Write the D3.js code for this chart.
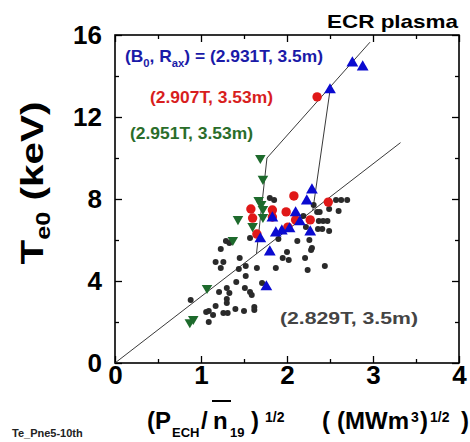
<!DOCTYPE html>
<html>
<head>
<meta charset="utf-8">
<script src="https://cdnjs.cloudflare.com/ajax/libs/d3/7.8.5/d3.min.js"></script>
<style>
  body { margin: 0; background: #fff; }
  svg { display: block; }
  text { font-family: "Liberation Sans", Arial, sans-serif; font-weight: bold; }
</style>
</head>
<body>
<div class="chart"></div>
<script>
// tick values
const xMajor = [0, 1, 2, 3, 4];
const xMinor = [0.5, 1.5, 2.5, 3.5];
const yMajor = [0, 4, 8, 12, 16];
const yMinor = [2, 6, 10, 14];

// (2.829T, 3.5m) - black dots
const blackDots = [[1.80,8.05],[1.85,7.95],[2.57,7.95],[2.63,7.95],[2.70,7.95],[2.31,7.71],[2.49,7.51],[2.60,7.41],
  [2.35,7.37],[2.38,7.37],[2.19,7.17],[2.37,6.93],[2.42,6.93],[2.47,6.93],[2.36,6.54],[2.41,6.54],[2.49,6.44],
  [2.22,6.63],[1.57,6.10],[1.90,6.05],[2.12,5.95],[2.26,6.00],[1.29,5.95],[1.33,5.85],[1.23,5.56],[2.29,5.61],
  [2.28,5.51],[2.00,5.41],[1.45,5.12],[1.17,4.93],[1.26,4.93],[1.95,5.12],[2.02,5.02],[2.21,5.12],[2.44,4.73],
  [1.23,4.63],[1.44,4.59],[1.52,4.73],[1.65,4.63],[1.87,4.63],[2.24,4.54],[1.52,4.24],[1.41,3.95],[1.71,3.90],
  [1.30,3.66],[1.51,3.66],[1.57,3.46],[1.59,3.32],[1.21,3.46],[1.33,3.41],[1.30,3.12],[1.30,2.93],[0.88,3.07],
  [1.17,2.78],[1.62,2.73],[1.62,2.59],[1.40,2.63],[1.50,2.54],[1.06,2.49],[1.09,2.54],[1.14,2.34],[1.09,2.00],
  [1.26,2.44],[1.31,2.44]];

// (2.907T, 3.53m) - red circles
const redDots = [[2.08,8.15],[2.48,7.85],[1.58,7.51],[1.83,7.46],[1.99,7.37],[1.60,7.07],[1.83,7.12],[2.27,6.98],
  [2.10,6.98],[2.01,6.63],[1.65,6.29],[2.35,12.98]];

// (2.931T, 3.5m) - blue triangles
const blueTri = [[2.29,8.44],[2.23,7.90],[2.10,7.32],[1.83,7.07],[2.27,6.39],[2.03,6.54],[1.94,6.44],[1.87,6.34],
  [1.69,6.05],[1.80,5.41],[1.76,3.71],[2.76,14.63],[2.88,14.44],[2.50,13.32],[2.15,6.88]];

// (2.951T, 3.53m) - green down triangles
const greenTri = [[1.69,10.0],[1.72,8.98],[1.67,7.95],[1.70,7.76],[1.72,7.51],[1.43,7.02],[1.72,7.12],[1.60,6.68],
  [1.37,6.0],[1.07,3.66],[0.87,1.99],[0.91,2.15]];

// guide lines
const lowerLine = [[0,0],[3.32,10.75]];
const upperLine = [[1.645,5.33],[1.767,10.0],[2.965,15.65]];
const jumpLine = [[2.30,7.45],[2.50,13.3]];

const W = 470, H = 442;
const margin = {top: 35, right: 11, bottom: 79, left: 115};
const w = W - margin.left - margin.right;
const h = H - margin.top - margin.bottom;

const svgRoot = d3.select(".chart").append("svg")
    .attr("width", W)
    .attr("height", H);
const svg = svgRoot.append("g")
    .attr("transform", "translate(" + margin.left + "," + margin.top + ")");

const x = d3.scaleLinear().domain([0, 4]).range([0, w]);
const y = d3.scaleLinear().domain([0, 16]).range([h, 0]);

// axes: ticks pointing inward on all four sides
const styleAxis = g => {
    g.select(".domain").remove();
    g.selectAll("line").attr("stroke", "#000").attr("stroke-width", 1.3);
};

svg.append("g").attr("transform", "translate(0," + h + ")")
    .call(d3.axisBottom(x).tickValues(xMajor).tickSize(-7).tickPadding(3).tickFormat(d3.format("d")))
    .call(styleAxis)
    .selectAll("text").style("font-size", "26px").attr("fill", "#000");
svg.append("g").attr("transform", "translate(0," + h + ")")
    .call(d3.axisBottom(x).tickValues(xMinor).tickSize(-4).tickFormat(""))
    .call(styleAxis);
svg.append("g")
    .call(d3.axisTop(x).tickValues(xMajor).tickSize(-7).tickFormat(""))
    .call(styleAxis);
svg.append("g")
    .call(d3.axisTop(x).tickValues(xMinor).tickSize(-4).tickFormat(""))
    .call(styleAxis);

svg.append("g")
    .call(d3.axisLeft(y).tickValues(yMajor).tickSize(-7).tickPadding(13).tickFormat(d3.format("d")))
    .call(styleAxis)
    .selectAll("text").style("font-size", "26px").attr("fill", "#000");
svg.append("g")
    .call(d3.axisLeft(y).tickValues(yMinor).tickSize(-4).tickFormat(""))
    .call(styleAxis);
svg.append("g").attr("transform", "translate(" + w + ",0)")
    .call(d3.axisRight(y).tickValues(yMajor).tickSize(-7).tickFormat(""))
    .call(styleAxis);
svg.append("g").attr("transform", "translate(" + w + ",0)")
    .call(d3.axisRight(y).tickValues(yMinor).tickSize(-4).tickFormat(""))
    .call(styleAxis);

// frame
svg.append("rect")
    .attr("width", w).attr("height", h)
    .attr("fill", "none").attr("stroke", "#000").attr("stroke-width", 1.6);

const line = d3.line().x(d => x(d[0])).y(d => y(d[1]));

// black dots
svg.selectAll(".blk").data(blackDots).enter().append("circle")
    .attr("class", "blk")
    .attr("cx", d => x(d[0])).attr("cy", d => y(d[1]))
    .attr("r", 3).attr("fill", "#2a2a2a");

// lines
[lowerLine, upperLine, jumpLine].forEach(pts => {
    svg.append("path").datum(pts)
        .attr("d", line)
        .attr("fill", "none").attr("stroke", "#222").attr("stroke-width", 0.9);
});

// red circles
svg.selectAll(".red").data(redDots).enter().append("circle")
    .attr("class", "red")
    .attr("cx", d => x(d[0])).attr("cy", d => y(d[1]))
    .attr("r", 4.7).attr("fill", "#e01818");

// blue triangles
const triUp = d3.symbol().type(d3.symbolTriangle).size(60);
svg.selectAll(".blue").data(blueTri).enter().append("path")
    .attr("class", "blue")
    .attr("d", triUp)
    .attr("transform", d => "translate(" + x(d[0]) + "," + y(d[1]) + ")")
    .attr("fill", "#0a0ad0");

// green down triangles
const triDown = d3.symbol().type(d3.symbolTriangle).size(48);
svg.selectAll(".green").data(greenTri).enter().append("path")
    .attr("class", "green")
    .attr("d", triDown)
    .attr("transform", d => "translate(" + x(d[0]) + "," + y(d[1]) + ") rotate(180)")
    .attr("fill", "#1d6a2c");

// annotations
svgRoot.append("text")
    .attr("x", 458).attr("y", 28)
    .attr("text-anchor", "end")
    .style("font-size", "19px")
    .attr("textLength", 131).attr("lengthAdjust", "spacingAndGlyphs")
    .text("ECR plasma");

const leg = svgRoot.append("text")
    .attr("x", 125).attr("y", 62)
    .style("font-size", "17px")
    .attr("textLength", 198).attr("lengthAdjust", "spacingAndGlyphs")
    .attr("fill", "#1a1aa8");
leg.append("tspan").text("(B");
leg.append("tspan").attr("dy", 5).style("font-size", "11px").text("0");
leg.append("tspan").attr("dy", -5).text(", R");
leg.append("tspan").attr("dy", 5).style("font-size", "11px").text("ax");
leg.append("tspan").attr("dy", -5).text(") = (2.931T, 3.5m)");

const notes = [
    {t: "(2.907T, 3.53m)", x: 150, y: 103, len: 123, c: "#d81e1e"},
    {t: "(2.951T, 3.53m)", x: 130, y: 139, len: 123, c: "#2a6d2a"},
    {t: "(2.829T, 3.5m)", x: 280, y: 324, len: 138, c: "#444"}
];
notes.forEach(n => {
    svgRoot.append("text")
        .attr("x", n.x).attr("y", n.y)
        .style("font-size", "17px")
        .attr("textLength", n.len).attr("lengthAdjust", "spacingAndGlyphs")
        .attr("fill", n.c)
        .text(n.t);
});

// y axis title
const yt = svgRoot.append("text")
    .attr("transform", "translate(43,183) rotate(-90)")
    .attr("text-anchor", "middle")
    .attr("textLength", 163).attr("lengthAdjust", "spacingAndGlyphs")
    .style("font-size", "32px");
yt.append("tspan").text("T");
yt.append("tspan").attr("dy", 7).style("font-size", "20px").text("e0");
yt.append("tspan").attr("dy", -7).text(" (keV)");

// x axis title, pieces placed like the original
const xt = svgRoot.append("text").attr("y", 429).style("font-size", "24px");
xt.append("tspan").attr("x", 147).text("(P");
xt.append("tspan").attr("x", 172).attr("dy", 8).style("font-size", "13px").text("ECH");
xt.append("tspan").attr("x", 201).attr("dy", -8).text("/");
xt.append("tspan").attr("x", 213).text("n");
xt.append("tspan").attr("x", 230).attr("dy", 8).style("font-size", "13px").text("19");
xt.append("tspan").attr("x", 251).attr("dy", -8).text(")");
xt.append("tspan").attr("x", 265).attr("dy", -7).style("font-size", "14px").text("1/2");
xt.append("tspan").attr("x", 322).attr("dy", 7).text("(");
xt.append("tspan").attr("x", 337).text("(MWm");
xt.append("tspan").attr("x", 411).attr("dy", -7).style("font-size", "14px").text("3");
xt.append("tspan").attr("x", 420).attr("dy", 7).text(")");
xt.append("tspan").attr("x", 430).attr("dy", -7).style("font-size", "14px").text("1/2");
xt.append("tspan").attr("x", 461).attr("dy", 7).text(")");

// overbar above n
svgRoot.append("line")
    .attr("x1", 212).attr("x2", 231)
    .attr("y1", 401).attr("y2", 401)
    .attr("stroke", "#000").attr("stroke-width", 2);

svgRoot.append("text")
    .attr("x", 12).attr("y", 437)
    .style("font-size", "11px")
    .attr("fill", "#222")
    .text("Te_Pne5-10th");
</script>
</body>
</html>
